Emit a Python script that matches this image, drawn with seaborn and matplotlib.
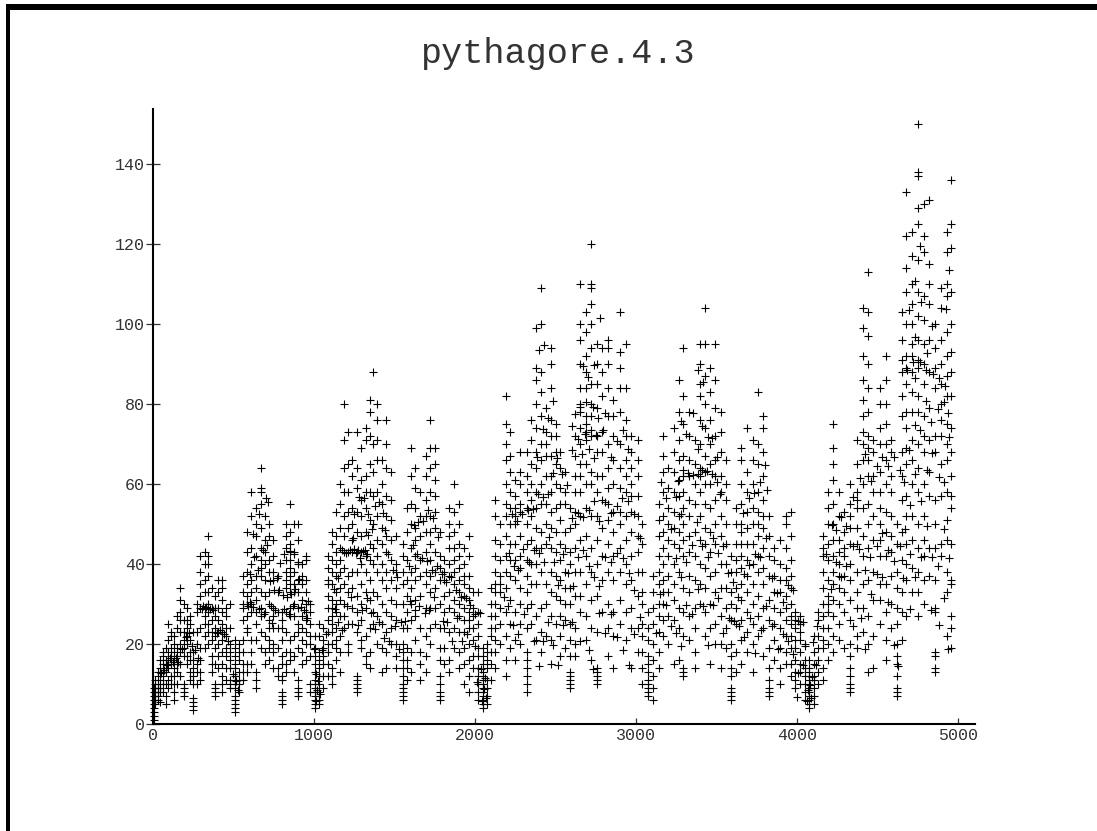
import pandas as pd
import matplotlib
matplotlib.use("Agg")
import matplotlib.pyplot as plt
from matplotlib.patches import Rectangle
import seaborn as sns

# values, one list of y per x position
x_a = [4, 14, 28, 45, 62, 78, 95, 112, 128, 150, 170, 190, 210, 228, 250, 272, 295, 320, 340, 365, 385, 405, 430, 455, 480, 510, 535, 560, 585, 610, 640, 670, 695, 720, 745, 775, 800, 825, 850, 875, 900, 925, 950, 975, 1005, 1030, 1055, 1085]
y_a = [[1, 2, 3, 4, 5, 6, 7, 8, 9], [5, 6, 7, 8, 9, 10, 11], [6, 7, 8, 9, 10, 12, 13], [5.5, 8, 9, 11, 13, 14, 16],
       [8, 10, 12, 13, 15, 17, 18], [5, 7, 10, 13, 15, 16, 19], [9, 11, 14, 16, 18, 21, 25], [10, 12, 15, 17, 19, 22, 23],
       [6, 8, 10, 12, 14, 16, 18, 20, 22], [10, 13, 15, 17, 19, 24, 27], [12, 15, 18, 20, 23, 26, 28, 31, 34],
       [7, 8, 9, 10, 17, 19, 21, 23, 26, 30], [15, 17, 20, 22, 24, 26, 29], [11, 13, 16, 18, 21, 25, 27],
       [3.5, 4.5, 5.5, 6.5, 10, 12, 14, 16, 18, 23], [10, 13, 15, 20, 23, 28, 30], [11, 13, 16, 19, 24, 29, 32, 35, 38, 42],
       [19, 22, 25, 27, 29, 33, 36, 40, 43], [20, 23, 25, 28, 30, 33, 37, 40, 42, 47], [13, 15, 17, 21, 23, 26, 29, 34],
       [7, 8, 9, 10, 15, 19, 22, 24, 27, 29, 32], [14, 17, 20, 23, 26, 29, 33, 36], [8, 10, 12, 15, 18, 21, 23, 25, 28, 31, 34, 36],
       [11, 14, 17, 19, 22, 24, 27, 29], [9, 10, 11, 14, 16, 18, 20, 24, 30], [3, 4, 5, 6, 7, 9, 10, 11, 12, 14, 15, 17, 19, 21],
       [8, 10, 11, 13, 16, 18, 20], [11, 13, 15, 18, 21, 26, 29, 30, 33, 37], [13, 15, 23, 24, 27, 30, 32, 35, 38, 43, 48],
       [15, 18, 21, 28, 30, 33, 36, 40, 44, 52, 58], [9, 11, 13, 21, 25, 28, 31, 34, 37, 42, 47, 50, 54],
       [19, 23, 27, 29, 33, 37, 39, 41, 44, 49, 55, 58, 59, 64], [15, 18, 22, 28, 32, 36, 40, 43, 46, 52],
       [16, 19, 21, 24, 26, 30, 33, 38, 41, 47, 50], [14, 18, 20, 24, 27, 29, 36, 38, 42, 46], [12, 14, 19, 24, 28, 33, 37],
       [5, 6, 7, 8, 11, 12, 15, 17, 21, 24, 26, 28], [13, 15, 18, 23, 28, 34, 36, 38, 41, 44, 47, 50],
       [16, 18, 21, 27, 29, 33, 35, 37, 39, 41, 43, 45, 48, 55], [13, 17, 22, 27, 30, 33, 35, 38, 43, 50],
       [7, 8, 9, 11, 19, 23, 25, 29, 33, 36, 40, 46, 50], [15, 18, 21, 24, 27, 31, 35, 37, 40], [16, 20, 23, 26, 28, 30, 33, 36, 41, 42],
       [8, 10, 17, 20, 22, 25, 28, 30], [4, 5, 6, 7, 8, 9, 10, 11, 13, 15, 17, 19, 22], [5, 6, 8, 10, 12, 14, 16, 18, 22, 25],
       [9, 12, 15, 17, 19, 21, 24], [12, 15, 18, 20, 23, 26, 29, 32, 35, 36, 39, 42]]

x_b = [1110, 1135, 1160, 1185, 1210, 1235, 1265, 1290, 1320, 1345, 1365, 1390, 1420, 1450, 1480, 1510, 1550, 1580, 1605, 1630, 1660, 1695, 1720, 1750, 1780, 1810, 1840, 1870, 1900, 1930, 1960, 1990, 2020, 2050]
y_b = [[10, 12, 14, 20, 23, 25, 27, 29, 31, 35, 38, 41, 45, 48], [16, 19, 21, 24, 28, 30, 33, 37, 40, 43, 47, 53],
       [13, 18, 22, 27, 31, 34, 38, 41, 44, 49, 55, 60], [24, 27, 30, 35, 39, 43, 47, 52, 58, 64, 71, 80],
       [18, 20, 25, 33, 37, 43, 49, 53, 58, 65, 73], [25, 29, 34, 38, 43, 46, 50, 54, 62, 66],
       [8, 9, 10, 11, 12, 23, 28, 32, 38, 43, 48, 53, 59, 64, 73], [19, 21, 26, 30, 35, 40, 43, 47, 52, 56, 61, 69],
       [15, 17, 22, 29, 33, 38, 42, 48, 54, 58, 62, 71, 74], [14, 18, 24, 31, 36, 41, 45, 51, 58, 65, 72, 78, 81],
       [25, 28, 33, 40, 44, 50, 57, 63, 70, 88], [20, 27, 32, 38, 42, 46, 52, 58, 66, 71, 76, 80],
       [13, 19, 25, 30, 36, 40, 45, 49, 55, 60, 66], [14, 18, 23, 28, 34, 38, 43, 47, 52, 57, 64, 70, 76],
       [20, 24, 27, 31, 36, 41, 46, 51, 56, 63], [14, 17, 20, 26, 30, 34, 38, 40, 47],
       [6, 7, 8, 9, 10, 12, 14, 16, 18, 20, 24, 30, 35, 38, 42, 45], [11, 14, 16, 19, 24, 28, 32, 36, 41, 48, 54],
       [13, 18, 26, 30, 34, 38, 44, 50, 55, 62, 69], [21, 27, 31, 36, 39, 42, 46, 49, 54, 59, 64],
       [11, 15, 18, 24, 32, 37, 41, 47, 52, 58], [13, 17, 22, 29, 35, 38, 43, 48, 52, 56, 62, 67],
       [20, 24, 29, 33, 37, 41, 45, 48, 52, 58, 64, 69, 76], [25, 29, 34, 38, 43, 49, 53, 57, 61, 65, 69],
       [6, 7, 8, 10, 12, 16, 19, 24, 30, 36, 39, 42, 48], [15, 19, 24, 28, 32, 36, 38, 41],
       [13, 16, 23, 29, 33, 37, 40, 44, 47, 50, 54], [19, 24, 28, 31, 35, 38, 41, 44, 48, 53, 60],
       [14, 18, 23, 27, 30, 33, 36, 39, 42, 45, 50, 55], [10, 15, 19, 23, 26, 29, 32, 35, 37, 40, 44],
       [8, 12, 16, 20, 24, 26, 28, 31, 34, 37, 42, 47], [14, 17, 21, 24, 27, 29, 33], [6, 8, 10, 12, 14, 17, 19, 22, 25, 28, 33],
       [4, 5, 6, 7, 8, 9, 10, 11, 12, 13, 15, 17, 19]]

x_c = [2075, 2100, 2125, 2155, 2190, 2220, 2250, 2280, 2320, 2350, 2380, 2410, 2440, 2470, 2500, 2530, 2560, 2590, 2620, 2650, 2690, 2720, 2755, 2790, 2825, 2860, 2900, 2935, 2970, 3010, 3040]
y_c = [[5, 7, 9, 11, 14, 16, 18, 20], [11, 15, 18, 22, 24, 27, 30, 34], [14, 18, 21, 24, 27, 30, 33, 35, 38, 42, 46, 52, 56],
       [20, 25, 29, 33, 35, 37, 41, 45, 50], [12, 16, 22, 28, 34, 38, 42, 47, 52, 55, 60, 66, 70, 75, 82],
       [19, 25, 31, 37, 41, 45, 50, 54, 58, 63, 67, 73], [16, 21, 28, 36, 41, 45, 50, 52, 54, 57, 61],
       [20, 25, 30, 34, 39, 42, 47, 53, 55, 60, 63, 68], [8, 10, 12, 14, 16, 18, 24, 29, 33, 37, 41, 45, 50, 54, 58, 62, 68],
       [25, 30, 35, 40, 46, 52, 56, 60, 65, 71, 76], [21, 27, 35, 40, 44, 49, 54, 58, 64, 68, 74, 80, 86, 89, 99],
       [18, 23, 29, 38, 44, 48, 55, 60, 66, 70, 77, 83, 88, 100, 109], [22, 30, 35, 45, 50, 55, 62, 67, 70, 73, 79],
       [15, 21, 27, 33, 38, 44, 49, 53, 58, 62, 67, 72, 76, 84, 90, 94], [25, 32, 37, 43, 48, 54, 60, 65, 68, 72, 75],
       [17, 22, 27, 31, 36, 41, 45, 51, 55, 59, 64, 68], [19, 26, 30, 34, 38, 44, 48, 55, 58, 63],
       [9, 10, 11, 12, 13, 17, 21, 25, 30, 34, 40, 43, 49, 54], [17, 20, 24, 32, 38, 44, 50, 53, 58, 62, 67, 72],
       [28, 32, 38, 46, 52, 58, 62, 65, 70, 74, 78, 80, 84, 90, 96, 100, 110], [21, 27, 35, 42, 47, 54, 60, 65, 71, 73, 75, 77, 84, 88, 92, 98, 103],
       [16, 24, 31, 38, 44, 52, 60, 63, 72, 77, 80, 85, 94, 100, 105, 109, 110, 120], [10, 11, 12, 13, 14, 23, 32, 40, 46, 52, 58, 62, 68, 72, 79, 85, 90, 95],
       [28, 36, 42, 49, 56, 62, 68, 73, 82, 88, 94], [17, 24, 30, 38, 45, 51, 55, 59, 64, 70, 77, 84, 90, 94, 96],
       [14, 22, 28, 36, 42, 48, 53, 60, 66, 72, 77, 81], [25, 31, 38, 44, 50, 53, 59, 64, 70, 78, 84, 89, 93, 103],
       [21, 28, 35, 40, 46, 52, 58, 62, 66, 72, 76, 84, 95], [14, 24, 29, 36, 42, 48, 53, 57, 60, 64, 68, 72],
       [18, 24, 32, 38, 43, 47, 52, 57, 62, 66, 71], [10, 14, 18, 22, 25, 30, 33, 38, 45, 50]]

x_d = [3075, 3105, 3140, 3170, 3200, 3235, 3265, 3295, 3330, 3365, 3400, 3430, 3460, 3490, 3525, 3560, 3590, 3620, 3650, 3690, 3725, 3760, 3790, 3825, 3860, 3895, 3930, 3960, 3990, 4020, 4050, 4075]
y_d = [[7, 8, 9, 10, 11, 13, 15, 17, 21, 24, 28], [6, 9, 12, 16, 20, 25, 29, 33, 37], [14, 18, 23, 27, 30, 35, 38, 42, 47, 51, 55],
       [22, 26, 30, 33, 36, 40, 44, 48, 52, 58, 63, 67, 72], [20, 27, 33, 37, 42, 46, 50, 54, 59, 64],
       [15, 26, 31, 35, 40, 45, 49, 53, 58, 63, 68, 74], [16, 24, 29, 38, 44, 48, 52, 57, 61, 66, 71, 78, 86],
       [12, 13, 14, 22, 28, 34, 42, 46, 50, 54, 58, 62, 67, 75, 82, 94], [21, 27, 33, 37, 43, 47, 52, 56, 62, 66, 72, 78],
       [14, 18, 24, 29, 36, 42, 48, 55, 60, 65, 71], [30, 35, 40, 46, 52, 58, 62, 64, 70, 76, 82, 85, 90, 95],
       [22, 28, 34, 39, 45, 49, 55, 60, 63, 67, 74, 80, 87, 95, 104], [15, 24, 30, 37, 43, 48, 54, 60, 65, 70, 76, 83, 89],
       [20, 25, 33, 38, 45, 50, 56, 62, 66, 72, 79, 86, 95], [14, 20, 27, 34, 40, 47, 52, 58, 62, 68, 73, 78],
       [19, 24, 29, 34, 40, 45, 50, 56, 60, 66], [6, 7, 8, 9, 12, 14, 17, 20, 26, 30, 33, 38, 42], [13, 18, 25, 29, 34, 38, 41, 45, 50, 54],
       [15, 21, 26, 31, 35, 39, 42, 45, 48, 50, 55, 60, 66, 69], [18, 23, 28, 33, 37, 41, 45, 49, 53, 58, 63, 74],
       [13, 20, 25, 30, 35, 40, 45, 50, 54, 60, 66, 71], [22, 27, 32, 38, 42, 47, 50, 53, 58, 65, 70, 83],
       [17, 24, 29, 35, 39, 44, 49, 52, 56, 62, 68, 74, 77], [7, 8, 9, 11, 14, 19, 26, 31, 37, 42, 47, 52], [16, 21, 25, 29, 33, 37, 41, 44],
       [10, 14, 19, 24, 28, 33, 36, 40, 46], [15, 18, 22, 26, 29, 32, 36, 39, 44, 50, 52], [12, 15, 19, 22, 25, 27, 30, 34, 37, 41, 47, 53],
       [9, 11, 13, 16, 19, 21, 24, 26, 28], [10, 13, 15, 18, 21, 23, 25, 27], [6, 8, 10, 12, 14, 16, 20], [4, 5, 6, 7, 8, 9, 10, 11, 12, 13, 14, 16]]

x_e = [4105, 4130, 4160, 4190, 4225, 4260, 4290, 4330, 4370, 4410, 4440, 4475, 4515, 4550, 4585, 4620, 4650, 4680, 4715, 4750, 4790, 4820, 4860, 4895, 4930, 4955]
y_e = [[5, 7, 9, 11, 12, 15, 18, 22], [10, 13, 16, 19, 22, 26, 28], [11, 14, 19, 21, 24, 27, 30, 34, 38, 42, 44, 47],
       [16, 20, 24, 28, 30, 32, 36, 41, 45, 50, 54, 58], [18, 22, 27, 31, 35, 38, 42, 46, 50, 55, 61, 65, 69, 75],
       [21, 25, 30, 34, 37, 40, 43, 46, 52, 58], [19, 28, 33, 37, 42, 44, 48, 53], [8, 9, 10, 12, 14, 17, 20, 26, 31, 36, 40, 45, 49, 52, 55, 60],
       [19, 22, 29, 33, 38, 45, 49, 54, 56, 58, 65, 71], [23, 29, 35, 42, 47, 54, 60, 66, 70, 73, 77, 81, 86, 92, 99, 104],
       [13, 20, 27, 36, 44, 50, 55, 62, 66, 69, 72, 78, 84, 90, 97, 103, 113], [14, 22, 31, 38, 46, 52, 58, 62, 68, 71],
       [25, 31, 35, 42, 46, 50, 54, 58, 63, 70, 74, 80, 84], [16, 21, 28, 35, 42, 48, 53, 60, 66, 70, 75, 80, 86, 92],
       [24, 30, 37, 43, 47, 52, 58, 62, 68, 71], [7, 8, 9, 12, 15, 17, 20, 25, 29, 34, 38, 45, 50],
       [21, 28, 33, 41, 48, 56, 62, 68, 77, 82, 88, 91, 96, 103], [27, 36, 40, 45, 52, 57, 65, 69, 74, 78, 85, 89, 92, 100, 108, 114, 122, 133],
       [33, 39, 46, 52, 60, 66, 71, 78, 83, 88, 92, 95, 100, 105, 110, 117, 123],
       [27, 33, 38, 44, 50, 58, 64, 70, 78, 82, 89, 91, 96, 102, 108, 116, 125, 129, 137, 138, 150],
       [30, 36, 42, 46, 52, 60, 68, 72, 77, 85, 90, 95, 101, 107, 118, 122, 130], [37, 44, 57, 63, 71, 79, 88, 96, 105, 110, 115, 131],
       [13, 14, 17, 18, 28, 29, 36, 44, 50, 56, 68, 72, 84, 89, 94, 100], [42, 45, 57, 65, 72, 76, 80, 85, 90, 96, 104, 109],
       [22, 33, 38, 46, 51, 58, 66, 70, 75, 82, 87, 92, 98, 107, 110, 118, 123],
       [19, 24, 27, 35, 36, 45, 54, 57, 62, 68, 74, 82, 88, 93, 100, 108, 119, 125, 136]]

# arcs and clumps that do not sit on the stacks above
arcs_a = [(770, 36.5), (785, 33.4), (805, 32.2), (830, 31.6), (860, 32.3), (885, 33.6), (905, 36.2), (898, 40.3), (878, 42.4), (848, 43.2), (815, 42.3), (787, 40.2),
          (588, 29.5), (603, 30.4), (622, 29.1), (660, 28.6), (690, 27.4), (735, 29.3), (742, 25.2), (760, 28.4), (812, 28.7), (842, 27.3), (868, 29.5), (918, 29.2), (935, 28.3), (962, 30.6), (958, 26.4),
          (1012, 5.6), (1018, 8.4), (1023, 10.7), (1010, 12.3), (1040, 7.4), (1002, 18.6), (1048, 18.5), (1072, 22.4),
          (140, 16.4), (158, 15.3), (182, 18.6), (202, 21.7), (222, 22.6), (242, 19.4), (262, 18.3), (282, 16.5), (302, 28.6), (312, 29.5), (332, 29.2), (352, 28.7), (372, 28.5), (396, 22.6), (418, 23.4), (442, 22.4), (468, 20.6), (498, 12.4), (518, 10.6), (525, 8.4),
          (52, 12.6), (70, 13.4), (88, 14.7), (105, 16.5), (122, 15.4), (602, 37.4), (628, 41.6), (652, 38.4), (682, 43.5), (708, 44.6), (728, 35.6), (752, 33.4), (620, 47.5), (660, 52.4), (702, 56.5), (716, 55.4)]
arcs_b = [(1240, 46.4), (1258, 42.6), (1288, 41.4), (1318, 43.3), (1338, 47.2), (1334, 52.5), (1310, 56.3), (1280, 56.6), (1250, 52.3),
          (1122, 33.6), (1148, 36.4), (1172, 43.4), (1198, 42.6), (1222, 43.3), (1248, 43.6), (1276, 43.4), (1302, 43.2), (1330, 42.4), (1358, 48.6), (1378, 54.3), (1402, 55.4), (1428, 52.6), (1442, 48.4), (1462, 42.3), (1492, 38.4), (1518, 36.6),
          (1132, 28.6), (1150, 25.4), (1175, 23.4), (1205, 29.5), (1228, 31.6), (1275, 24.6), (1300, 28.4), (1332, 31.4), (1355, 27.6), (1378, 23.6), (1405, 25.3), (1435, 21.4), (1465, 20.6), (1500, 24.3), (1528, 18.6), (1540, 25.4), (1565, 25.6),
          (1592, 39.4), (1612, 44.6), (1640, 42.4), (1672, 41.5), (1702, 40.6), (1732, 38.3), (1762, 39.4), (1792, 37.5), (1822, 35.4), (1852, 36.6), (1882, 33.4), (1912, 31.6), (1942, 31.4), (1972, 29.6), (2002, 27.4), (2032, 27.6),
          (1620, 49.6), (1648, 50.4), (1680, 50.6), (1708, 53.4), (1738, 51.5), (1768, 46.6), (1598, 30.6), (1625, 28.5), (1652, 29.4), (1688, 27.6), (1715, 28.4), (1745, 31.6), (1800, 25.6), (1828, 25.4), (1858, 20.6), (1888, 26.4), (1918, 20.6), (1948, 22.4),
          (2042, 5.6), (2058, 8.6), (2062, 11.4), (2068, 6.4), (2038, 13.6), (1998, 19.4), (2012, 10.4)]
arcs_c = [(2600, 74.4), (2622, 77.3), (2652, 79.2), (2692, 80.3), (2732, 79.2), (2762, 76.4), (2792, 73.4), (2642, 71.2), (2682, 72.4), (2722, 73.3), (2752, 72.2), (2602, 68.3),
          (2232, 52.4), (2262, 50.6), (2292, 52.4), (2332, 53.4), (2362, 53.6), (2392, 57.4), (2422, 56.6), (2452, 57.4), (2482, 62.6), (2512, 66.4), (2542, 62.4), (2572, 59.6), (2605, 51.4), (2640, 52.6), (2672, 51.6), (2705, 53.4), (2738, 55.6), (2772, 50.6), (2805, 55.4), (2842, 52.6), (2880, 54.4), (2915, 56.4), (2950, 55.6), (2990, 52.4), (3022, 46.4),
          (2210, 42.6), (2240, 39.4), (2270, 38.4), (2300, 43.6), (2338, 40.4), (2368, 43.4), (2398, 42.6), (2428, 40.4), (2458, 46.6), (2488, 40.4), (2518, 34.6), (2548, 42.4), (2578, 37.6), (2608, 34.4), (2638, 41.6), (2668, 43.4), (2708, 39.4), (2742, 36.6), (2772, 34.4), (2808, 41.6), (2845, 40.4), (2880, 42.6), (2920, 41.4), (2955, 37.6), (2988, 33.4),
          (2180, 31.6), (2208, 29.4), (2238, 24.6), (2268, 22.4), (2305, 27.4), (2365, 20.6), (2395, 14.4), (2425, 20.6), (2455, 25.4), (2485, 19.6), (2515, 14.6), (2545, 24.6), (2605, 25.4), (2655, 20.6), (2705, 18.4), (2735, 13.6), (2772, 27.6), (2810, 22.6), (2845, 27.4), (2880, 21.6), (2920, 18.4), (2955, 14.6), (2990, 22.4), (3025, 26.6),
          (2388, 66.6), (2420, 73.6), (2452, 76.4), (2482, 80.6), (2395, 93.4), (2428, 94.6), (2668, 89.4), (2700, 86.6), (2740, 89.6), (2775, 101.4), (2805, 77.6), (2845, 66.6), (2880, 70.6), (2918, 73.4), (2950, 68.6), (2665, 67.4), (2705, 68.6), (2738, 66.4)]
arcs_d = [(3292, 63.3), (3322, 62.6), (3352, 62.2), (3382, 62.4), (3412, 63.3), (3442, 63.2), (3472, 62.4), (3502, 60.3), (3522, 57.4), (3262, 60.6),
          (3155, 60.4), (3185, 56.4), (3215, 48.6), (3250, 41.4), (3280, 36.6), (3312, 40.4), (3345, 44.6), (3378, 50.4), (3412, 44.4), (3445, 41.6), (3478, 46.4), (3508, 42.6), (3540, 44.4), (3572, 37.6), (3602, 35.4), (3635, 31.6), (3668, 37.4), (3702, 39.6), (3738, 42.4), (3772, 41.6), (3805, 46.4), (3842, 36.4), (3878, 32.6), (3912, 30.4), (3945, 34.6), (3978, 33.4), (4008, 25.6), (4040, 25.4),
          (3122, 22.6), (3152, 32.4), (3185, 29.6), (3218, 24.4), (3250, 22.6), (3278, 19.4), (3312, 29.6), (3348, 27.4), (3382, 33.6), (3415, 29.4), (3448, 19.6), (3478, 29.6), (3510, 31.4), (3542, 22.6), (3575, 26.4), (3608, 25.6), (3638, 24.4), (3670, 21.6), (3708, 26.4), (3742, 17.6), (3775, 23.4), (3810, 29.4), (3845, 24.4), (3880, 18.6), (3912, 22.4), (3945, 20.6), (3978, 17.4), (4005, 12.6),
          (3662, 52.6), (3700, 56.4), (3735, 57.6), (3770, 60.4), (3802, 64.6), (3812, 58.4), (3412, 74.4), (3445, 71.6), (3475, 71.4), (3505, 66.6), (3248, 56.6), (3280, 52.4), (3312, 72.4), (3352, 77.6), (3382, 68.6), (3385, 88.4), (3415, 85.4), (3280, 75.6),
          (4062, 5.6), (4068, 8.4), (4082, 9.6), (4088, 6.4), (4095, 11.6), (4048, 19.4), (4035, 14.6), (3998, 6.6), (4115, 14.6), (4100, 20.4), (4122, 24.4)]
arcs_e = [(4682, 88.4), (4722, 90.3), (4762, 90.4), (4802, 88.3), (4842, 87.4), (4882, 86.3), (4732, 86.4), (4922, 84.3),
          (4210, 33.6), (4240, 40.4), (4272, 36.6), (4305, 39.4), (4345, 44.4), (4385, 43.6), (4420, 38.4), (4455, 41.6), (4495, 44.4), (4530, 47.6), (4565, 43.4), (4600, 40.6), (4640, 44.4), (4670, 48.6), (4700, 42.4), (4735, 36.6), (4770, 41.6), (4805, 49.4), (4838, 41.6), (4878, 39.4), (4912, 48.6), (4945, 41.4),
          (4180, 42.4), (4215, 49.6), (4245, 48.4), (4275, 51.6), (4305, 49.4), (4350, 56.6), (4390, 61.4), (4425, 67.4), (4460, 60.6), (4495, 64.4), (4530, 66.6), (4565, 64.4), (4600, 66.6), (4638, 63.4), (4665, 60.4), (4700, 54.6), (4735, 62.4), (4770, 55.6), (4805, 63.4), (4840, 67.6), (4880, 61.6), (4915, 60.4), (4945, 71.6),
          (4345, 24.4), (4395, 26.4), (4425, 18.6), (4458, 32.4), (4495, 37.4), (4530, 36.6), (4565, 30.4), (4600, 19.6), (4630, 14.4), (4660, 36.4), (4700, 28.6), (4835, 28.4), (4880, 24.6), (4915, 31.4), (4940, 18.6),
          (4695, 68.4), (4730, 74.6), (4765, 73.4), (4800, 80.6), (4835, 75.4), (4875, 78.6), (4910, 80.4), (4935, 77.6), (4695, 103.4), (4730, 96.6), (4770, 105.4), (4805, 92.6), (4840, 99.4), (4925, 103.6), (4945, 113.4), (4765, 119.4), (4735, 110.6)]

x_ticks = [0, 1000, 2000, 3000, 4000, 5000]
y_ticks = [0, 20, 40, 60, 80, 100, 120, 140]

rows = []
for xs, ys in [(x_a, y_a), (x_b, y_b), (x_c, y_c), (x_d, y_d), (x_e, y_e)]:
    for x, col in zip(xs, ys):
        rows += [(x, y) for y in col]
rows += arcs_a + arcs_b + arcs_c + arcs_d + arcs_e
df = pd.DataFrame(rows, columns=["x", "y"])

sns.set_style("white")
plt.rcParams["font.family"] = ["Liberation Mono", "DejaVu Sans"]

W, H = 1097, 831
fig = plt.figure(figsize=(W / 100, H / 100), dpi=100)
ax = fig.add_axes([153 / W, 1 - 723.5 / H, 822 / W, 614.5 / H])

sns.scatterplot(data=df, x="x", y="y", marker="+", color="black", s=28, linewidth=0.8, ax=ax, clip_on=False)

ax.set_xlim(0, 822 / 161 * 1000)
ax.set_ylim(0, 614.5 / 4)
ax.set_xticks(x_ticks)
ax.set_yticks(y_ticks)
ax.set_xlabel("")
ax.set_ylabel("")
ax.tick_params(axis="y", direction="inout", length=10, width=0.9, pad=1, labelsize=12, left=True, colors="#333333")
ax.tick_params(axis="x", direction="in", length=4, width=0.9, pad=3.5, labelsize=12, bottom=True, colors="#333333")
for side in ["top", "right"]:
    ax.spines[side].set_visible(False)
for side in ["left", "bottom"]:
    ax.spines[side].set_linewidth(1.5)
    ax.spines[side].set_color("black")

fig.text(558 / W, 1 - 53 / H, "pythagore.4.3", ha="center", va="center", fontsize=25.3, color="#333333")

# thick frame along top and left of the page
fig.add_artist(Rectangle((6 / W, 0), 4 / W, 1 - 4 / H, transform=fig.transFigure, color="black", lw=0))
fig.add_artist(Rectangle((6 / W, 1 - 9.5 / H), 1 - 6 / W, 5.5 / H, transform=fig.transFigure, color="black", lw=0))

fig.savefig("out.png", dpi=100)
